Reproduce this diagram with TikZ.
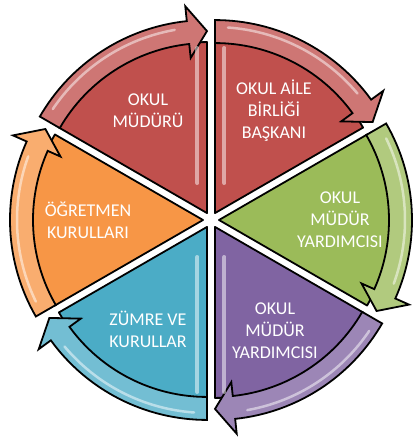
\documentclass[tikz,border=0pt]{standalone}
\usepackage{fontspec}
\setmainfont{Carlito}
\definecolor{segred}{HTML}{C0504D}
\definecolor{seggreen}{HTML}{9BBB59}
\definecolor{segpurple}{HTML}{8064A2}
\definecolor{segaqua}{HTML}{4BACC6}
\definecolor{segorange}{HTML}{F79646}

\begin{document}
\begin{tikzpicture}[x=1pt,y=1pt,
    segment/.style={draw=black, line width=1.8pt, line join=round},
    band/.style={draw=black, line width=1.8pt, line join=miter},
    gloss/.style={white, opacity=0.5, line width=4pt, line cap=round},
    segtext/.style={text=white, align=center, font=\fontsize{18}{22}\selectfont}]
    \useasboundingbox (-211,-220) rectangle (206,220);
    % Draw the six segments, each with its arrow on the rim
    \foreach \s/\col [evaluate=\s as \m using \s-30,
                      evaluate=\s as \e using \s-60,
                      evaluate=\s as \b using \s-54,
                      evaluate=\s as \g using \s-4,
                      evaluate=\s as \h using \s-50] in
        {150/segred, 90/segred, 30/seggreen, -30/segpurple, -90/segaqua, -150/segorange}
    {
      \begin{scope}[shift={(\m:8pt)}]
        % the slice
        \draw[segment, fill=\col] (0,0) -- (\s:171pt)
          arc[start angle=\s, end angle=\e, radius=171pt] -- cycle;
        % the curved arrow
        \draw[band, fill=\col!78!white] (\s:170pt) -- (\s:193pt)
          arc[start angle=\s, end angle=\b, radius=193pt]
          -- (\b:208pt) -- (\e:182pt) -- (\b:156pt) -- (\b:170pt)
          arc[start angle=\b, end angle=\s, radius=170pt] -- cycle;
        % shine on the arrow
        \draw[gloss, line width=2.5pt] (\g:186pt)
          arc[start angle=\g, end angle=\h, radius=186pt];
      \end{scope}
    }
    % Draw the shine along the vertical edges
    \draw[gloss] (-13.5,37) -- (-13.5,172);
    \draw[gloss] (13.5,37) -- (13.5,172);
    \draw[gloss] (13.5,-37) -- (13.5,-172);
    \draw[gloss] (-13.5,-37) -- (-13.5,-172);
    % Label the segments
    \node[segtext] (mudur) at (120:126pt) {OKUL\\MÜDÜRÜ};
    \node[segtext] (aile) at (60:126pt) {OKUL AİLE\\BİRLİĞİ\\BAŞKANI};
    \node[segtext] (yardimci1) at (0:129pt) {OKUL\\MÜDÜR\\YARDIMCISI};
    \node[segtext] (yardimci2) at (-60:128pt) {OKUL\\MÜDÜR\\YARDIMCISI};
    \node[segtext] (zumre) at (-120:126pt) {ZÜMRE VE\\KURULLAR};
    \node[segtext] (ogretmen) at (180:123pt) {ÖĞRETMEN\\KURULLARI};
\end{tikzpicture}
\end{document}
